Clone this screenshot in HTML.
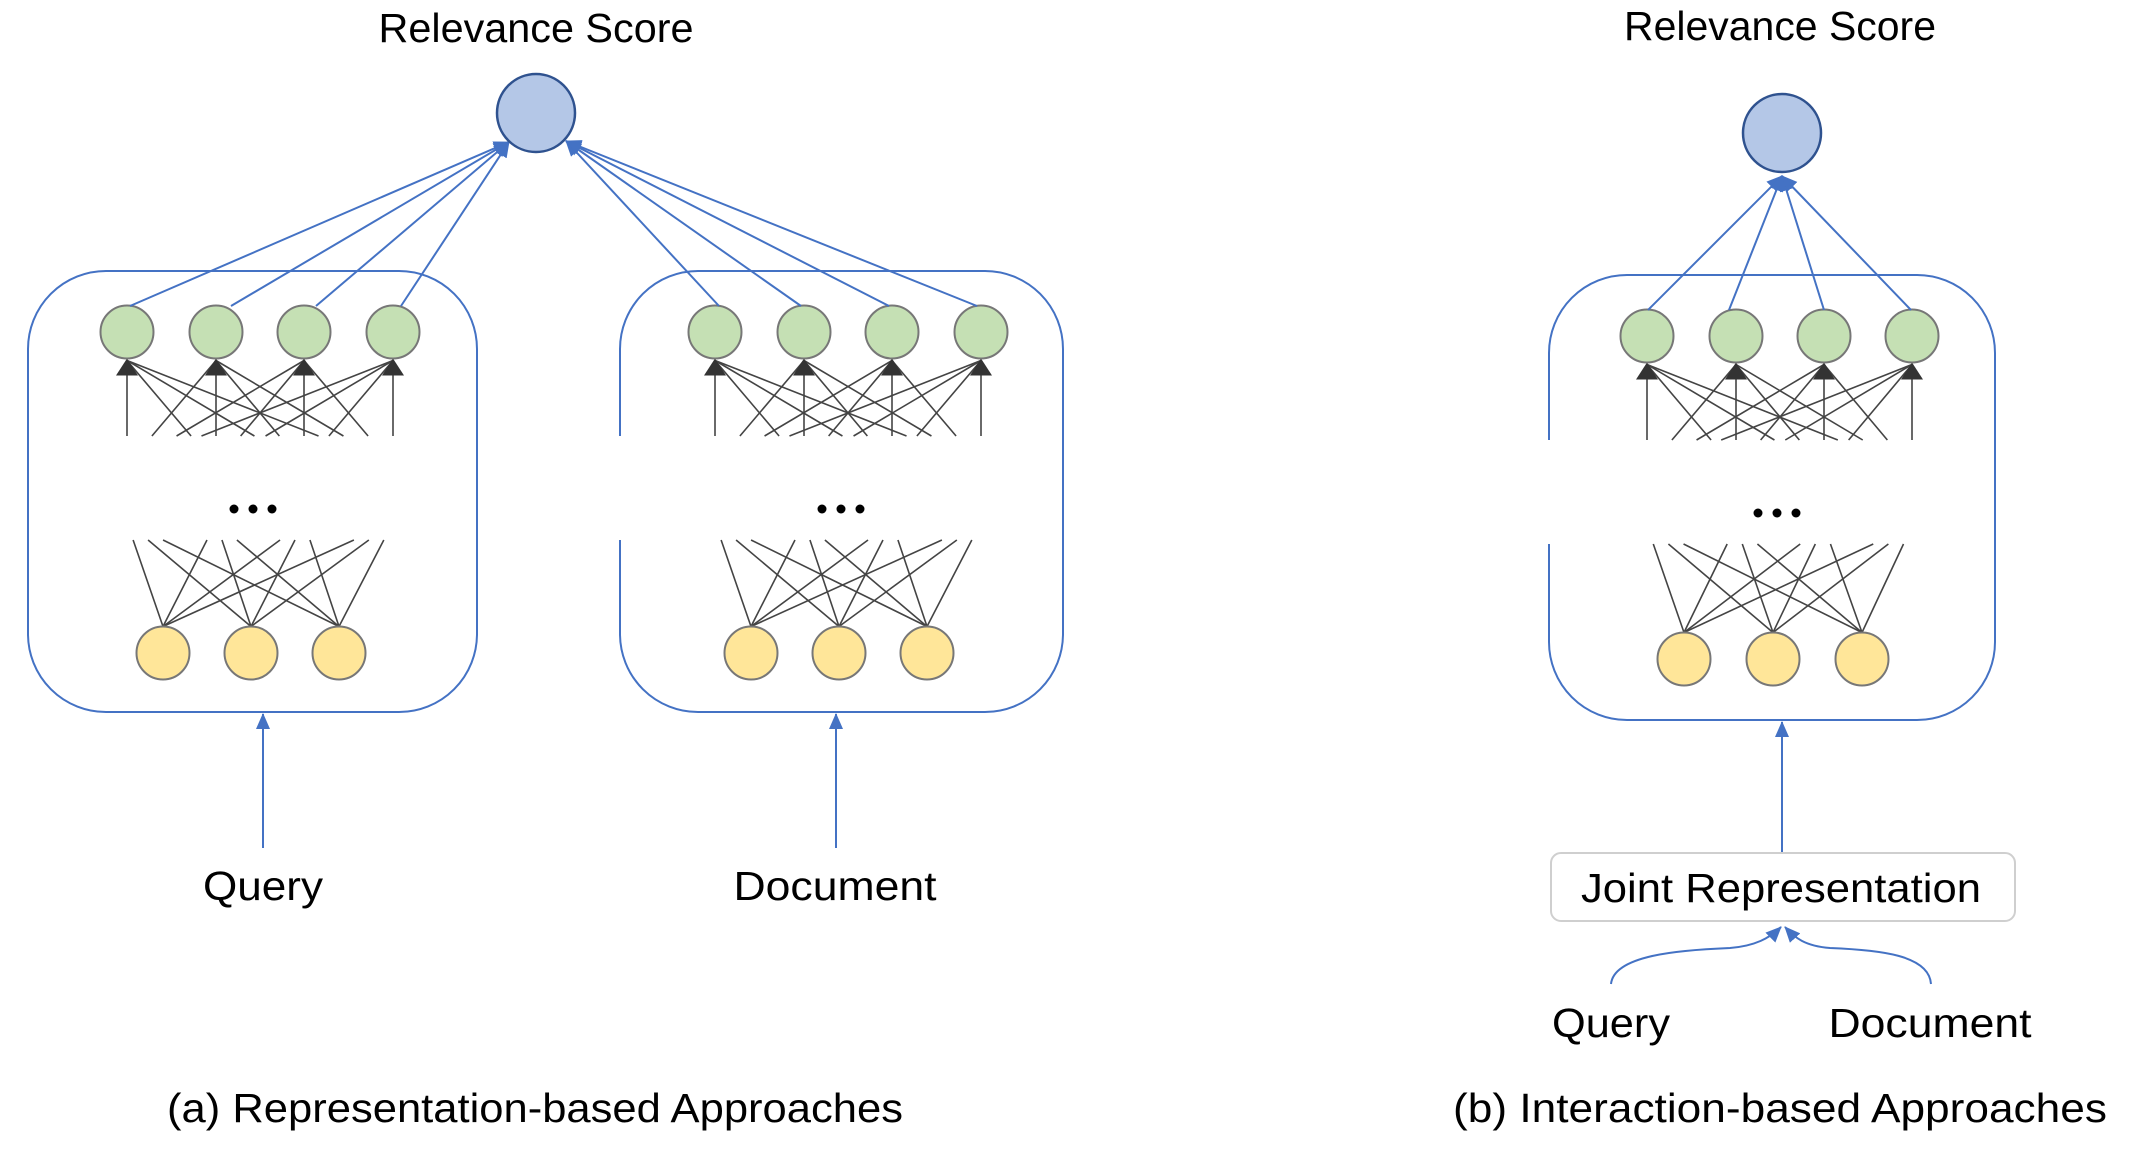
<!DOCTYPE html>
<html><head><meta charset="utf-8"><style>
html,body{margin:0;padding:0;background:#fff;}
svg{display:block;}
text{font-family:"Liberation Sans",sans-serif;fill:#000;}
</style></head><body>
<svg id="s" width="2134" height="1152" viewBox="0 0 2134 1152" xmlns="http://www.w3.org/2000/svg">
<defs>
<marker id="ab2" markerWidth="16" markerHeight="14" refX="15" refY="7" orient="auto" markerUnits="userSpaceOnUse" viewBox="0 0 16 14">
<path d="M0,0 L16,7 L0,14 z" fill="#4472C4"/></marker>
</defs>
<g id="g"></g>
<text x="536" y="42" font-size="41" text-anchor="middle" textLength="315" lengthAdjust="spacingAndGlyphs">Relevance Score</text>
<text x="1780" y="40" font-size="41" text-anchor="middle" textLength="312" lengthAdjust="spacingAndGlyphs">Relevance Score</text>
<text x="263" y="900" font-size="41" text-anchor="middle" textLength="120" lengthAdjust="spacingAndGlyphs">Query</text>
<text x="835" y="900" font-size="41" text-anchor="middle" textLength="203" lengthAdjust="spacingAndGlyphs">Document</text>
<rect x="1551" y="853" width="464" height="68" rx="10" fill="#fff" stroke="#cfcfcf" stroke-width="2"/>
<text x="1781" y="902" font-size="41" text-anchor="middle" textLength="400" lengthAdjust="spacingAndGlyphs">Joint Representation</text>
<text x="1611" y="1037" font-size="41" text-anchor="middle" textLength="118" lengthAdjust="spacingAndGlyphs">Query</text>
<text x="1930" y="1037" font-size="41" text-anchor="middle" textLength="203" lengthAdjust="spacingAndGlyphs">Document</text>
<text x="535" y="1122" font-size="41" text-anchor="middle" textLength="736" lengthAdjust="spacingAndGlyphs">(a) Representation-based Approaches</text>
<text x="1780" y="1122" font-size="41" text-anchor="middle" textLength="654" lengthAdjust="spacingAndGlyphs">(b) Interaction-based Approaches</text>
<path d="M1611,984 C1614,955 1680,950 1730,948 C1755,946 1770,938 1781,927" fill="none" stroke="#4472C4" stroke-width="2" marker-end="url(#ab2)"/>
<path d="M1931,984 C1929,955 1880,950 1830,948 C1805,946 1795,938 1785,927" fill="none" stroke="#4472C4" stroke-width="2" marker-end="url(#ab2)"/>
</svg>
<script>
var NS="http://www.w3.org/2000/svg",G=document.getElementById("g");
function el(t,a){var e=document.createElementNS(NS,t);for(var k in a)e.setAttribute(k,a[k]);G.appendChild(e);return e;}
function line(x1,y1,x2,y2,c,w,m){var a={x1:x1,y1:y1,x2:x2,y2:y2,stroke:c,"stroke-width":w};if(m)a["marker-end"]=m;return el("line",a);}
function panel(o){
 el("rect",{x:o.bx,y:o.by,width:o.bw,height:o.bh,rx:78,ry:78,fill:"none",stroke:"#4472C4","stroke-width":2});
 if(o.gap) el("rect",{x:o.bx-3,y:o.cut,width:8,height:o.bot-o.cut,fill:"#fff"});
 var gy=o.gy,yy=o.yy,r=26.5;
 o.gx.forEach(function(xj){o.gx.forEach(function(xi){
   var x2=xj+0.72*(xi-xj);line(xj,gy+r+2,x2,o.cut,"#444",1.6);});
   el("path",{d:"M"+(xj-11)+","+(gy+r+17)+" L"+xj+","+(gy+r)+" L"+(xj+11)+","+(gy+r+17)+" Z",fill:"#333"});
 });
 o.yx.forEach(function(xs){o.gx.forEach(function(xu){
   var x2=xs+0.83*(xu-xs);line(xs,yy-r,x2,o.bot,"#444",1.6);});});
 o.gx.forEach(function(x){el("circle",{cx:x,cy:gy,r:r,fill:"#C5E0B4",stroke:"#777","stroke-width":2});});
 o.yx.forEach(function(x){el("circle",{cx:x,cy:yy,r:r,fill:"#FFE699",stroke:"#777","stroke-width":2});});
 var dc=o.dx;[-19,0,19].forEach(function(d){el("circle",{cx:dc+d,cy:o.dy,r:4.5,fill:"#000"});});
 line(o.ax,o.ay2,o.ax,o.by+o.bh+2,"#4472C4",2,"url(#ab2)");
}
var A={bx:28,by:271,bw:449,bh:441,gy:332,yy:653,cut:436,bot:540,dx:253,dy:509,ax:263,ay2:848,
 gx:[127,216,304,393],yx:[163,251,339]};
var B={bx:620,by:271,bw:443,bh:441,gy:332,yy:653,cut:436,bot:540,dx:841,dy:509,ax:836,ay2:848,gap:1,
 gx:[715,804,892,981],yx:[751,839,927]};
var C={bx:1549,by:275,bw:446,bh:445,gy:336,yy:659,cut:440,bot:544,dx:1777,dy:513,ax:1782,ay2:853,gap:1,
 gx:[1647,1736,1824,1912],yx:[1684,1773,1862]};
panel(A);panel(B);panel(C);
A.gx.forEach(function(x,i){line(x+[3,15,12,8][i],306,509,142,"#4472C4",2,"url(#ab2)");});
B.gx.forEach(function(x,i){line(x+[4,-3,-3,-4][i],306,566,141,"#4472C4",2,"url(#ab2)");});
C.gx.forEach(function(x,i){line(x+[1,-7,0,-1][i],310,1782,176,"#4472C4",2,"url(#ab2)");});
el("circle",{cx:536,cy:113,r:39,fill:"#B4C7E7",stroke:"#2F528F","stroke-width":2.5});
el("circle",{cx:1782,cy:133,r:39,fill:"#B4C7E7",stroke:"#2F528F","stroke-width":2.5});
</script>
</body></html>
